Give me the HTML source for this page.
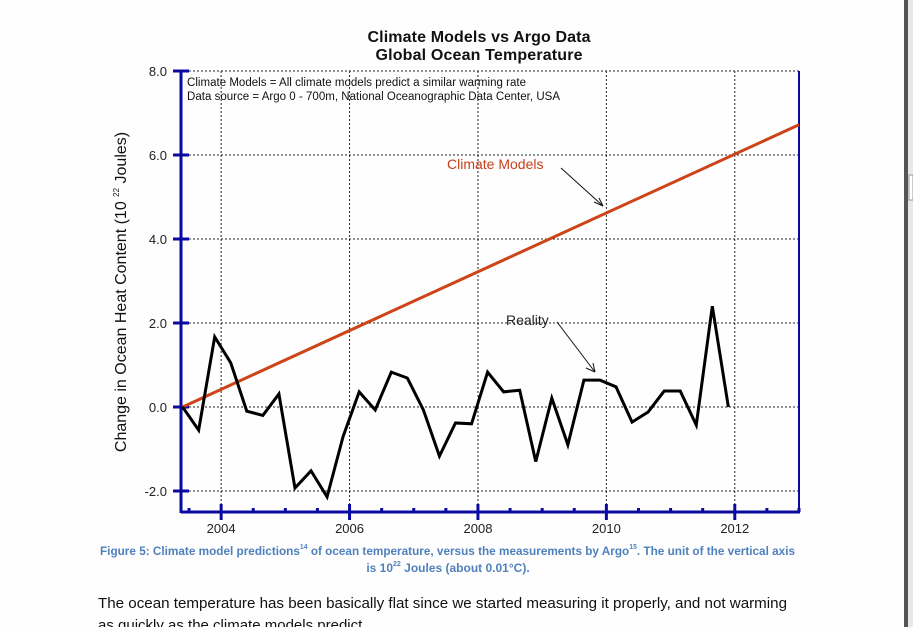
<!DOCTYPE html>
<html><head><meta charset="utf-8"><style>
html,body{margin:0;padding:0;background:#fff;width:913px;height:627px;overflow:hidden}
svg{display:block}
</style></head><body>
<svg id="chart" width="913" height="627" viewBox="0 0 913 627" xmlns="http://www.w3.org/2000/svg" font-family="Liberation Sans, Arial, sans-serif">
<rect x="0" y="0" width="913" height="627" fill="#fefefe"/>
<rect x="904" y="0" width="4" height="627" fill="#555"/>
<rect x="908" y="0" width="5" height="627" fill="#e8e8e8"/>
<rect x="909" y="175" width="4" height="25" fill="#fff" stroke="#999" stroke-width="1"/>
<text x="479" y="42" text-anchor="middle" font-size="16" font-weight="bold" fill="#111" textLength="223">Climate Models vs Argo Data</text>
<text x="479" y="60" text-anchor="middle" font-size="16" font-weight="bold" fill="#111" textLength="207">Global Ocean Temperature</text>
<g id="grid"></g>
<g id="axes"></g>
<text x="187" y="86" font-size="11.5" fill="#111" textLength="339">Climate Models = All climate models predict a similar warming rate</text>
<text x="187" y="100" font-size="11.5" fill="#111" textLength="373">Data source = Argo 0 - 700m, National Oceanographic Data Center, USA</text>
<g id="series"></g>
<text x="447" y="169" font-size="14" fill="#c8401a">Climate Models</text>
<line x1="561" y1="168" x2="603" y2="206" stroke="#111" stroke-width="1"/>
<path d="M603 206 L594 202 M603 206 L599 198" stroke="#111" stroke-width="1" fill="none"/>
<text x="506" y="325" font-size="14" fill="#222">Reality</text>
<line x1="557" y1="322" x2="595" y2="372" stroke="#111" stroke-width="1"/>
<path d="M595 372 L586 368 M595 372 L593 363" stroke="#111" stroke-width="1" fill="none"/>
<text transform="translate(126,292) rotate(-90)" text-anchor="middle" font-size="16" fill="#111">Change in Ocean Heat Content  (10 <tspan font-size="8" dy="-7">22</tspan><tspan dy="7"> Joules)</tspan></text>
<text x="100" y="555" font-size="12" font-weight="bold" fill="#4f81bd" textLength="695" lengthAdjust="spacingAndGlyphs">Figure 5: Climate model predictions<tspan font-size="7" dy="-6">14</tspan><tspan dy="6"> of ocean temperature, versus the measurements by Argo</tspan><tspan font-size="7" dy="-6">15</tspan><tspan dy="6">. The unit of the vertical axis</tspan></text>
<text x="448" y="572" text-anchor="middle" font-size="12" font-weight="bold" fill="#4f81bd">is 10<tspan font-size="7" dy="-6">22</tspan><tspan dy="6"> Joules (about 0.01°C).</tspan></text>
<text x="98" y="608" font-size="15" fill="#111" textLength="689" lengthAdjust="spacingAndGlyphs">The ocean temperature has been basically flat since we started measuring it properly, and not warming</text>
<text x="98" y="630" font-size="15" fill="#111">as quickly as the climate models predict.</text>
</svg>
<script>
const years = [2003.4,2003.65,2003.9,2004.15,2004.4,2004.65,2004.9,2005.15,2005.4,2005.65,2005.9,2006.15,2006.4,2006.65,2006.9,2007.15,2007.4,2007.65,2007.9,2008.15,2008.4,2008.65,2008.9,2009.15,2009.4,2009.65,2009.9,2010.15,2010.4,2010.65,2010.9,2011.15,2011.4,2011.65,2011.9];
const reality = [0.0,-0.55,1.67,1.05,-0.1,-0.2,0.31,-1.93,-1.52,-2.14,-0.7,0.36,-0.07,0.83,0.69,-0.07,-1.17,-0.38,-0.4,0.83,0.36,0.4,-1.3,0.21,-0.9,0.64,0.64,0.48,-0.36,-0.12,0.38,0.38,-0.43,2.4,0.0];
const modelYears = [2003.4, 2013.0];
const modelValues = [0.0, 6.72];
const xTicks = [2004,2006,2008,2010,2012];
const yTicks = [-2,0,2,4,6,8];
const yTickLabels = ["-2.0","0.0","2.0","4.0","6.0","8.0"];

const NS="http://www.w3.org/2000/svg";
const X0=181,X1=799,Y0=71,Y1=512,XMIN=2003.375,XMAX=2013.0,YMIN=-2.5,YMAX=8.0;
const xs=v=>X0+(v-XMIN)/(XMAX-XMIN)*(X1-X0);
const ys=v=>Y1-(v-YMIN)/(YMAX-YMIN)*(Y1-Y0);
function mk(tag,attrs,parent){const e=document.createElementNS(NS,tag);for(const k in attrs)e.setAttribute(k,attrs[k]);parent.appendChild(e);return e;}
const grid=document.getElementById('grid'),axes=document.getElementById('axes'),series=document.getElementById('series');
xTicks.forEach(t=>{const l=mk('line',{x1:xs(t),x2:xs(t),y1:Y0,y2:Y1,stroke:'#222','stroke-width':1,'stroke-dasharray':'2,2'},grid);

});
yTicks.forEach(t=>{const l=mk('line',{x1:X0,x2:X1,y1:ys(t),y2:ys(t),stroke:'#222','stroke-width':1,'stroke-dasharray':'2,2'},grid);

});
const blue='#0a0aa0';
let a=mk('line',{x1:X0,x2:X0,y1:Y0,y2:Y1+1,stroke:blue,'stroke-width':3},axes);


a=mk('line',{x1:X0,x2:X1+1,y1:Y1,y2:Y1,stroke:blue,'stroke-width':3},axes);


a=mk('line',{x1:X1,x2:X1,y1:Y0,y2:Y1,stroke:blue,'stroke-width':2},axes);


yTicks.forEach((t,i)=>{const tk=mk('line',{x1:X0-8,x2:X0+8,y1:ys(t),y2:ys(t),stroke:blue,'stroke-width':3},axes);


const tx=mk('text',{x:X0-14,y:ys(t)+5,'text-anchor':'end','font-size':13,fill:'#222'},axes);tx.textContent=yTickLabels[i];

});
for(let v=2003.5;v<=XMAX;v+=0.5){const major=xTicks.includes(v);
const tk=mk('line',{x1:xs(v),x2:xs(v),y1:Y1-(major?8:4),y2:Y1+(major?8:0),stroke:blue,'stroke-width':3},axes);

}
xTicks.forEach(t=>{const tx=mk('text',{x:xs(t),y:533,'text-anchor':'middle','font-size':13,fill:'#222'},axes);tx.textContent=t;

});
let m=mk('polyline',{points:modelYears.map((y,i)=>xs(y)+','+ys(modelValues[i])).join(' '),fill:'none',stroke:'#cc4418','stroke-width':3},series);


let r=mk('polyline',{points:years.map((y,i)=>xs(y)+','+ys(reality[i])).join(' '),fill:'none',stroke:'#000','stroke-width':3,'stroke-linejoin':'miter'},series);


</script>
</body></html>
